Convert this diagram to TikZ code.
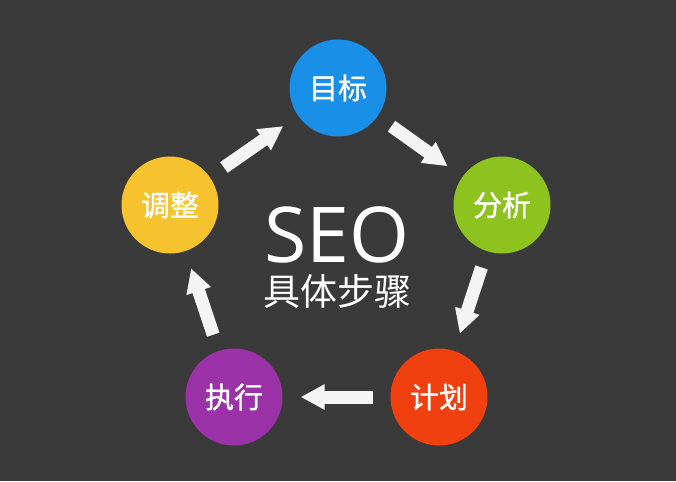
\documentclass[tikz,border=0pt]{standalone}
\usepackage{fontspec}
\setmainfont{Open Sans}
\newfontfamily\cjk{Noto Sans CJK SC}
\newfontfamily\cjkmid[FakeBold=1.2]{Noto Sans CJK SC}
\usetikzlibrary{arrows.meta}

\definecolor{bg}{HTML}{3A3A3A}
\definecolor{goalblue}{HTML}{1A8FE8}
\definecolor{analysegreen}{HTML}{8DC21F}
\definecolor{planred}{HTML}{F0400F}
\definecolor{dopurple}{HTML}{9B32A8}
\definecolor{adjustyellow}{HTML}{F6C22E}
\definecolor{arrowwhite}{HTML}{F4F4F4}

\begin{document}
\begin{tikzpicture}[x=1pt,y=-1pt,>={Triangle[width=24pt,length=24pt]},
  stage/.style={circle,minimum size=97pt,inner sep=0pt,text=white,font=\cjkmid\fontsize{29}{29}\selectfont},
  flow/.style={->,draw=arrowwhite,line width=13pt,shorten <=17pt,shorten >=18pt}]

\fill[bg] (0,0) rectangle (676,481);

\node(goal) at (338,88)[stage,fill=goalblue] {目标};
\node(analyse) at (502,205)[stage,fill=analysegreen] {分析};
\node(plan) at (439,397)[stage,fill=planred] {计划};
\node(do) at (234,397)[stage,fill=dopurple] {执行};
\node(adjust) at (170,205)[stage,fill=adjustyellow] {调整};

\node(seo) at (337,262)[anchor=base,text=white,inner sep=0pt,text depth=0pt,font=\fontsize{77}{77}\selectfont] {SEO};
\node(steps) at (337,305)[anchor=base,text=white,inner sep=0pt,text height=28pt,text depth=3pt,font=\cjk\fontsize{37}{37}\selectfont] {具体步骤};

\draw[flow] (adjust) -- (goal);
\draw[flow] (goal) -- (analyse);
\draw[flow] (analyse) -- (plan);
\draw[flow] (plan) -- (do);
\draw[flow] (do) -- (adjust);

\end{tikzpicture}
\end{document}
